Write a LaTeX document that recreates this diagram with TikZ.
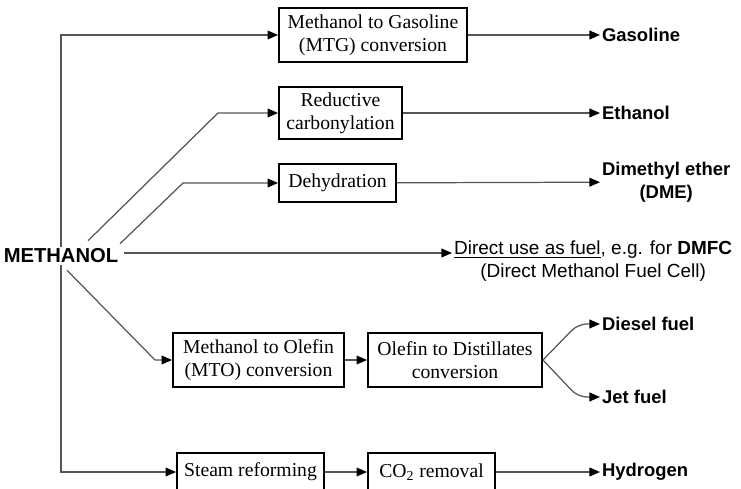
\documentclass[tikz,border=0pt]{standalone}
\usepackage{fontspec}
\setmainfont{Liberation Serif}
\setsansfont{Liberation Sans}
\usetikzlibrary{arrows.meta, positioning}
\definecolor{linegray}{RGB}{85,85,85}

\begin{document}
\begin{tikzpicture}[
    x=0.02cm, y=-0.02cm,
    box/.style={draw, line width=1.1pt, inner sep=2pt, align=center, font=\fontsize{11.2}{13}\selectfont},
    product/.style={anchor=west, inner sep=1pt, align=center, font=\sffamily\bfseries\fontsize{10.5}{13}\selectfont},
    arrow/.style={-{Triangle[length=6pt,width=5pt,color=black]}, draw=linegray, line width=0.7pt},
    link/.style={draw=linegray, line width=0.7pt}
]
    \useasboundingbox (0,0) rectangle (741,489);

    % Feedstock
    \node[font=\sffamily\bfseries\fontsize{11.5}{13}\selectfont, inner sep=1pt] (meth) at (61,256) {METHANOL};

    % Conversion steps
    \node[box, minimum width=3.76cm, minimum height=1.08cm] (mtg) at (373,35) {Methanol to Gasoline\\(MTG) conversion};
    \node[box, minimum width=2.46cm, minimum height=1.04cm] (red) at (340.5,113) {Reductive\\carbonylation};
    \node[box, minimum width=2.34cm, minimum height=0.76cm] (dehyd) at (337.5,183) {Dehydration};
    \node[box, minimum width=3.42cm, minimum height=1.08cm] (mto) at (258.5,360) {Methanol to Olefin\\(MTO) conversion};
    \node[box, minimum width=3.48cm, minimum height=1.08cm] (otd) at (455,360) {Olefin to Distillates\\conversion};
    \node[box, minimum width=2.94cm, minimum height=0.76cm] (steam) at (250.5,472) {Steam reforming};
    \node[box, minimum width=2.54cm, minimum height=0.76cm] (co2) at (431.5,472) {CO\textsubscript{2} removal};

    % Products
    \node[product] (gas) at (600,35) {Gasoline};
    \node[product] (eth) at (600,113) {Ethanol};
    \node[product] (dme) at (600,182) {Dimethyl ether\\(DME)};
    \node[anchor=west, inner sep=1pt, align=center, font=\sffamily\fontsize{10.8}{13}\selectfont] (direct) at (452,261)
        {\underline{Direct use as fuel}, e.g. for \textbf{DMFC}\\(Direct Methanol Fuel Cell)};
    \node[product] (diesel) at (600,324) {Diesel fuel};
    \node[product] (jet) at (600,397) {Jet fuel};
    \node[product] (hyd) at (600,472) {Hydrogen};

    % Bends
    \coordinate (redbend) at (218,113);
    \coordinate (dehydbend) at (183,183);
    \coordinate (mtobend) at (155,360);
    \coordinate (dieselbend) at (578,324);
    \coordinate (jetbend) at (578,397);

    % From methanol
    \draw[arrow] (meth.north) |- (mtg.west);
    \draw[arrow] (meth.north) ++(27,-6) -- (redbend) -- (red.west);
    \draw[arrow] (meth.north) ++(59,-3) -- (dehydbend) -- (dehyd.west);
    \draw[arrow] ([xshift=0.08cm,yshift=0.06cm]meth.east) -- ([yshift=0.06cm]meth.east -| direct.west);
    \draw[arrow] (meth.south) ++(6,5) -- (mtobend) -- (mto.west);
    \draw[arrow] (meth.south) |- (steam.west);

    % Chains
    \draw[arrow] (mtg) -- (gas);
    \draw[arrow] (red) -- (eth);
    \draw[arrow] (dehyd) -- (dme);
    \draw[arrow] (mto) -- (otd);
    \draw[arrow, rounded corners=5pt] (otd.east) -- (dieselbend) -- (diesel.west);
    \draw[arrow, rounded corners=5pt] (otd.east) -- (jetbend) -- (jet.west);
    \draw[arrow] (steam) -- (co2);
    \draw[arrow] (co2) -- (hyd);
\end{tikzpicture}
\end{document}
